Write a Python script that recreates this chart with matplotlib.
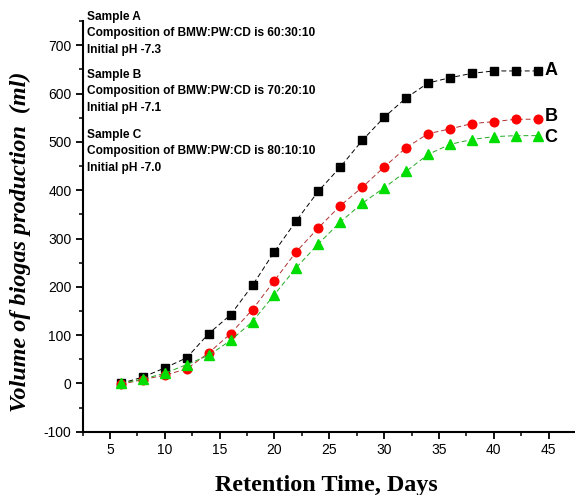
import numpy as np
import matplotlib
matplotlib.use("Agg")
import matplotlib.pyplot as plt
from matplotlib.ticker import MultipleLocator

# retention time (days) and cumulative biogas volume (ml) for the three samples
days = [6, 8, 10, 12, 14, 16, 18, 20, 22, 24, 26, 28, 30, 32, 34, 36, 38, 40, 42, 44]
sample_a = [0, 13, 32, 53, 103, 142, 203, 273, 337, 398, 448, 503, 551, 591, 622, 633, 642, 647, 647, 647]
sample_b = [-2, 8, 17, 30, 63, 103, 153, 213, 273, 322, 368, 406, 448, 488, 517, 527, 538, 542, 547, 547]
sample_c = [0, 9, 21, 39, 58, 89, 128, 184, 240, 289, 334, 373, 405, 439, 474, 495, 505, 511, 513, 513]

notes = [
    ("Sample A", "Composition of BMW:PW:CD is 60:30:10", "Initial pH -7.3"),
    ("Sample B", "Composition of BMW:PW:CD is 70:20:10", "Initial pH -7.1"),
    ("Sample C", "Composition of BMW:PW:CD is 80:10:10", "Initial pH -7.0"),
]

plt.rcParams["axes.unicode_minus"] = False

W, H = 575, 495
fig = plt.figure(figsize=(W / 100, H / 100), dpi=100)
ax = fig.add_axes([82.5 / W, (H - 431.7) / H, (W - 82.5) / W, (431.7 - 21.2) / H])

sans = ["Liberation Sans", "DejaVu Sans"]
serif = ["Liberation Serif", "DejaVu Serif"]

ax.plot(days, sample_a, ls=(0, (5, 3)), lw=0.7, color="black",
        marker="s", ms=5.5, mfc="black", mec="black")
ax.plot(days, sample_b, ls=(0, (5, 3)), lw=0.7, color="#b03030",
        marker="o", ms=6.2, mfc="#ff0000", mec="#ff0000")
ax.plot(days, sample_c, ls=(0, (5, 3)), lw=0.7, color="#22aa22",
        marker="^", ms=6.5, mfc="#00dd00", mec="#00dd00")

ax.set_xlim(2.5, 47.4)
ax.set_ylim(-100, 750)
ax.xaxis.set_major_locator(MultipleLocator(5))
ax.xaxis.set_minor_locator(MultipleLocator(2.5))
ax.yaxis.set_major_locator(MultipleLocator(100))
ax.yaxis.set_minor_locator(MultipleLocator(50))
ax.set_yticks(np.arange(-100, 701, 100))

for side in ("top", "right"):
    ax.spines[side].set_visible(False)
for side in ("left", "bottom"):
    ax.spines[side].set_linewidth(1.5)

ax.tick_params(which="major", direction="out", length=5, width=1.3, labelsize=10, pad=3)
ax.tick_params(which="minor", direction="out", length=3, width=1.1)
for lab in ax.get_xticklabels() + ax.get_yticklabels():
    lab.set_fontfamily(sans)

fig.text(0.5 * (215 + 437) / W, 1 - 486 / H, "Retention Time, Days",
         ha="center", va="center", fontsize=17.4, fontweight="bold", family=serif)
fig.text(20 / W, 1 - 242 / H, "Volume of biogas production  (ml)", rotation=90,
         ha="center", va="center", fontsize=17.4, fontweight="bold", fontstyle="italic", family=serif)

# end-of-curve series tags
for lbl, yv in (("A", sample_a[-1]), ("B", sample_b[-1] + 5), ("C", sample_c[-1] - 3)):
    ax.annotate(lbl, (days[-1], yv), xytext=(5, 0), textcoords="offset points",
                ha="left", va="center", fontsize=13, fontweight="bold", family=sans)

# sample descriptions in the upper left
block_top = [17, 75, 135]
for top, lines in zip(block_top, notes):
    for i, line in enumerate(lines):
        fig.text(87 / W, 1 - (top + i * 16.3) / H, line, ha="left", va="center",
                 fontsize=8.6, fontweight="bold", family=sans)

fig.savefig("out.png", dpi=100)
